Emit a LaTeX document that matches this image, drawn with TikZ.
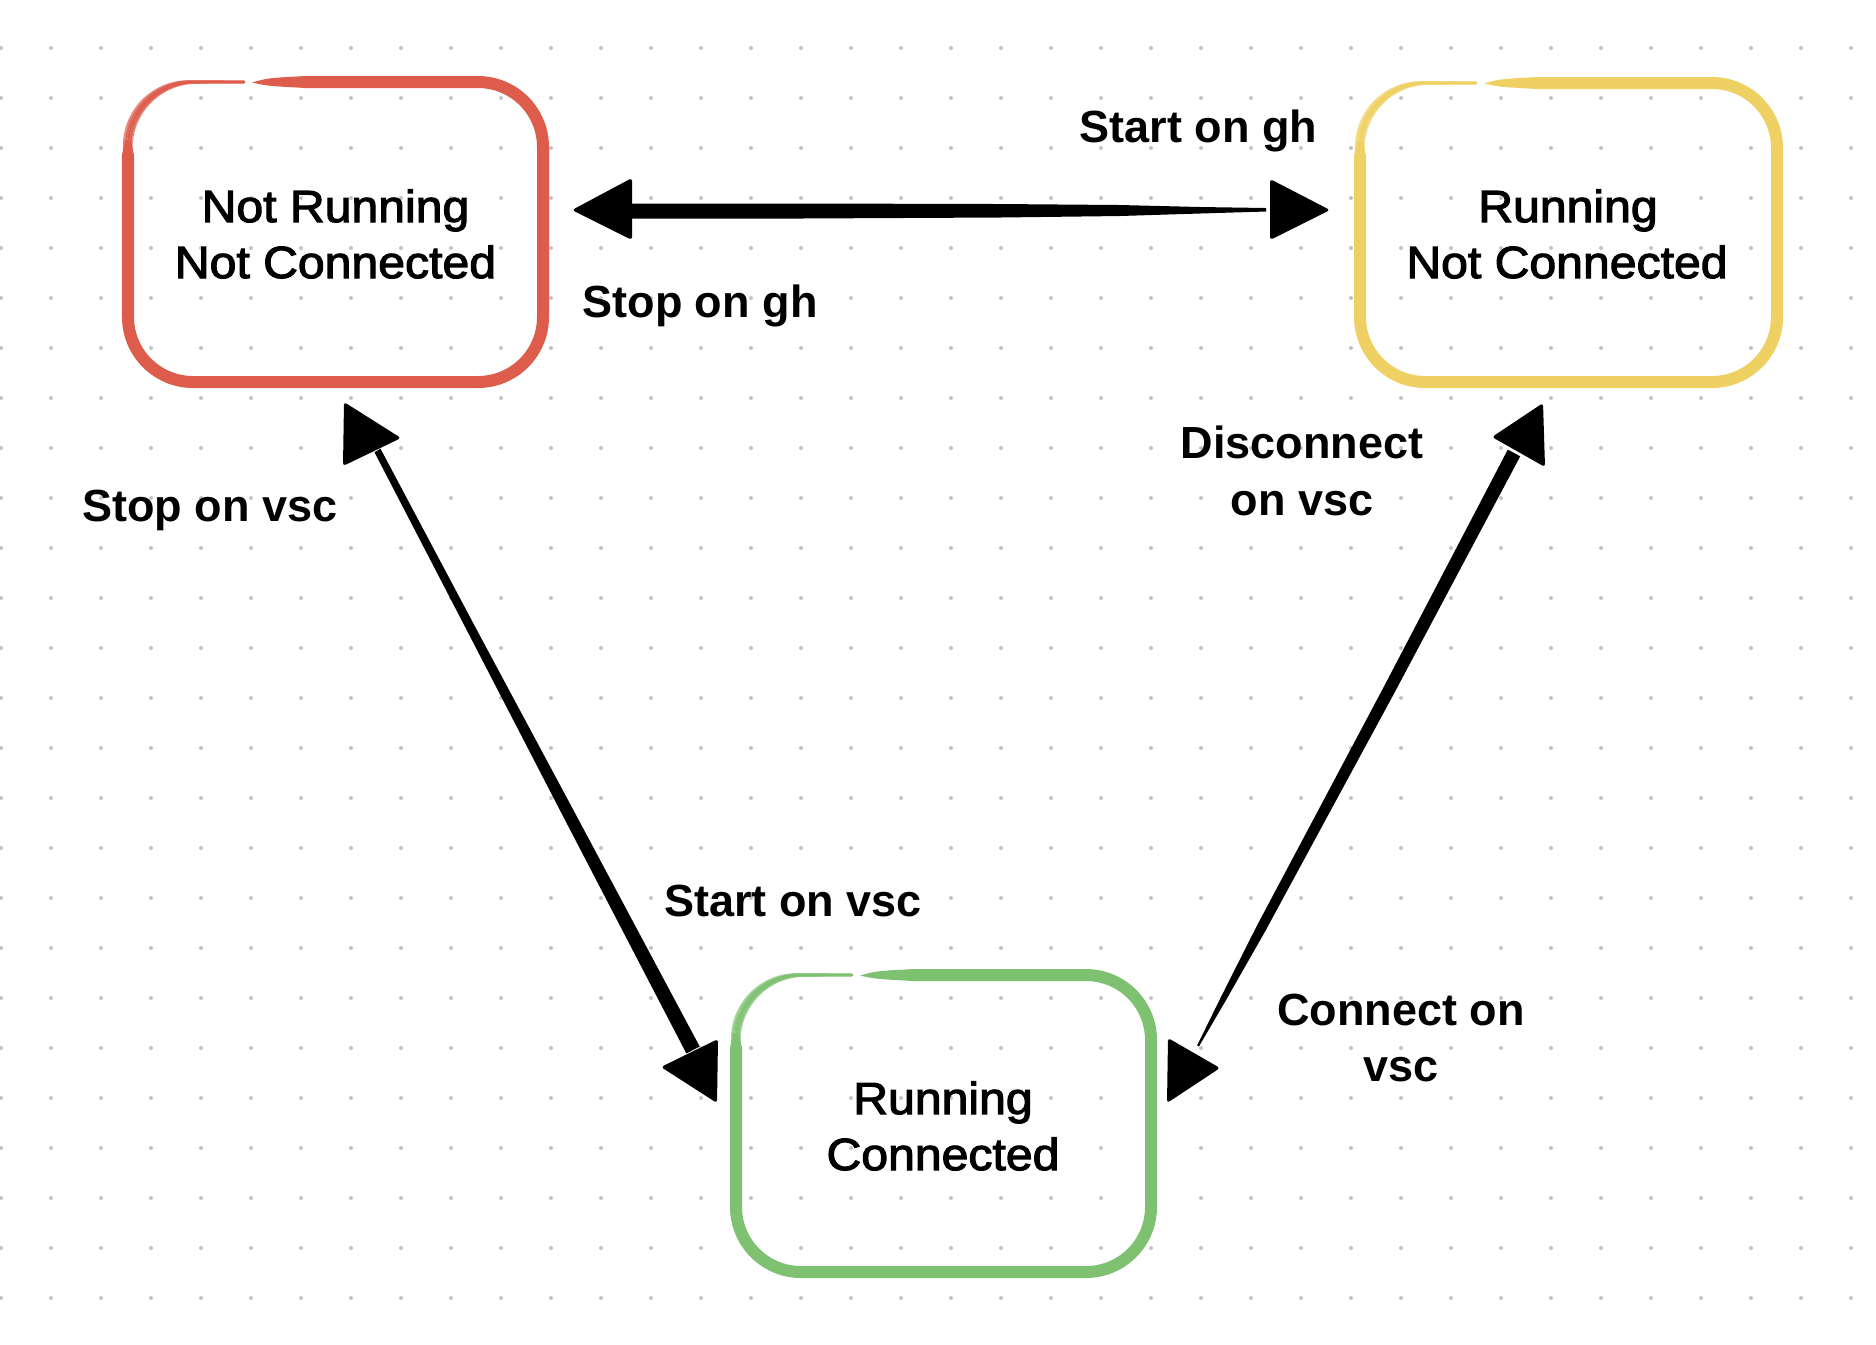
\documentclass[tikz,border=0pt]{standalone}
\usepackage{fontspec}
\setmainfont{Liberation Sans}
\newfontfamily\boxfont{Liberation Sans}[FakeBold=2.5,FakeStretch=1.07]
\newfontfamily\lblfont{Liberation Sans Bold}
\usetikzlibrary{calc}
\definecolor{cred}{RGB}{221,92,75}
\definecolor{cyel}{RGB}{239,209,99}
\definecolor{cgrn}{RGB}{126,193,113}
\definecolor{cdot}{RGB}{196,196,196}
\tikzset{
  boxtxt/.style={anchor=base, inner sep=0pt, font=\boxfont\fontsize{12.8pt}{15pt}\selectfont},
  lbl/.style={anchor=base, inner sep=0pt, font=\lblfont\fontsize{12.8pt}{15pt}\selectfont},
  thickrim/.style={line width=0.12cm, rounded corners=0.65cm, line cap=round, line join=round},
  thinrim/.style={line width=0.022cm, rounded corners=0.65cm, line cap=round, opacity=0.8},
  brush/.style={fill=black},
  head/.style={fill=black, rounded corners=0.03cm},
  statearea/.style={inner sep=0pt, draw=none}
}
\newcommand\rimbox[5]{%
  \fill[#1] ({#2+124},{#3+0.5}) .. controls ({#2+140},{#3-4}) .. ({#2+178},{#3-6}) -- ({#2+178},{#3+6}) .. controls ({#2+140},{#3+4}) .. ({#2+124},{#3+0.5}) -- cycle;
  \draw[thickrim,draw=#1] ({#2+176},#3) -- (#4,#3) -- (#4,#5) -- (#2,#5) -- (#2,{#3+74});
  \fill[#1] ({#2-6},{#3+74}) -- ({#2+6},{#3+74}) -- ({#2+3},{#3+58}) -- ({#2-3},{#3+58}) -- cycle;
  \foreach \o/\p in {-4/0.7,-2/0.9,0/1,2/0.9,3.5/0.7}{%
    \draw[thinrim,draw=#1,opacity=\p] ({#2+\o},{#3+90}) -- ({#2+\o},{#3+\o*0.25}) -- ({#2+116},{#3+\o*0.15});
  }%
}
\begin{document}
\begin{tikzpicture}[x=0.01cm,y=-0.01cm]
  \fill[white] (0,0) rectangle (1876,1344);
  \useasboundingbox (0,0) rectangle (1876,1344);
  % dot grid
  \foreach \i in {0,...,37}{
    \foreach \j in {0,...,25}{
      \fill[cdot] ({1+50*\i},{48+50*\j}) circle (0.02cm);
    }
  }
  % state areas (named)
  \node[statearea, minimum width=4.15cm, minimum height=3cm] (nrnc) at (335.5,232) {};
  \node[statearea, minimum width=4.17cm, minimum height=3cm] (rnc) at (1568.5,232.5) {};
  \node[statearea, minimum width=4.15cm, minimum height=2.97cm] (rc) at (943.5,1123.5) {};
  % boxes
  \rimbox{cred}{128}{82}{543}{382}
  \rimbox{cyel}{1360}{83}{1777}{382}
  \rimbox{cgrn}{736}{975}{1151}{1272}
  % state texts
  \node[boxtxt] (t1a) at (335.5,222) {Not Running};
  \node[boxtxt] (t1b) at (335.5,278) {Not Connected};
  \node[boxtxt] (t2a) at (1568,222) {Running};
  \node[boxtxt] (t2b) at (1567,278) {Not Connected};
  \node[boxtxt] (t3a) at (943,1114) {Running};
  \node[boxtxt] (t3b) at (943,1170) {Connected};
  % connector end points
  \coordinate (hA) at (632,211);
  \coordinate (hB) at (1266,210);
  % horizontal connector: Not Running <-> Running Not Connected
  \fill[brush] (hA) ++(0,-7.5) -- (800,203.5) -- (1000,204) -- (1120,205) -- (1200,207) -- ($(hB)+(0,-2)$)
     -- ($(hB)+(0,1.5)$) -- (1200,213.5) -- (1120,216) -- (1000,217.5) -- (800,218.5) -- ($(hA)+(0,7.5)$) -- cycle;
  \fill[head] (572,210) -- (632,178) -- (632,240) -- cycle;
  \fill[head] (1270,179) -- (1330,210) -- (1270,240) -- cycle;
  % left diagonal connector
  \fill[brush] (380.5,448.7) -- (476.5,629.3) -- (572.3,808.0) -- (699.7,1046.5)
     -- (686.4,1053.5) -- (561.7,813.6) -- (468.5,633.5) -- (374.5,452.3) -- cycle;
  \fill[head] (344,402) -- (401,438) -- (343,466) -- cycle;
  \fill[head] (661,1067) -- (718,1039) -- (717,1103) -- cycle;
  % right diagonal connector
  \fill[brush] (1520.2,456.3) -- (1393.6,694.3) -- (1265.8,930.1) -- (1226.0,1000.1) -- (1198.9,1046.5)
     -- (1197.1,1045.5) -- (1220.8,997.3) -- (1257.0,925.5) -- (1382.9,688.5) -- (1507.8,449.6) -- cycle;
  \fill[head] (1543,403) -- (1545,467) -- (1492,437) -- cycle;
  \fill[head] (1168,1038) -- (1220,1068) -- (1167,1103) -- cycle;
  % labels
  \node[lbl] (l1) at (1198.5,142) {Start on gh};
  \node[lbl] (l2) at (700,317) {Stop on gh};
  \node[lbl] (l3) at (210,521) {Stop on vsc};
  \node[lbl] (l4a) at (1302,458) {Disconnect};
  \node[lbl] (l4b) at (1302,515) {on vsc};
  \node[lbl] (l5) at (793,916) {Start on vsc};
  \node[lbl] (l6a) at (1401,1025) {Connect on};
  \node[lbl] (l6b) at (1401,1081) {vsc};
\end{tikzpicture}
\end{document}
